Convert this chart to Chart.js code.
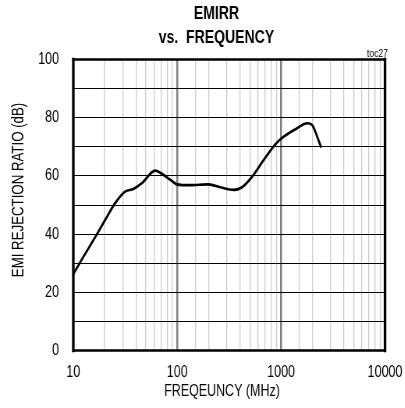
<!DOCTYPE html>
<html>
<head>
<meta charset="utf-8">
<script src="https://cdn.jsdelivr.net/npm/chart.js@4/dist/chart.umd.min.js"></script>
<style>
html,body{margin:0;padding:0;background:#fff;overflow:hidden;width:405px;height:408px;}
#wrap{width:519px;height:408px;transform:scaleX(0.78);transform-origin:0 0;}
</style>
</head>
<body>
<div id="wrap"><canvas id="c" width="519" height="408"></canvas></div>
<script>
const titleLines = ['EMIRR', 'vs.  FREQUENCY'];
const cornerNote = 'toc27';
const xTitle = 'FREQEUNCY (MHz)';
const yTitle = 'EMI REJECTION RATIO (dB)';
const freqMHz = [10, 12.5, 16.2, 20.2, 25.2, 31.5, 37.9, 45.7, 61.4, 73.9, 85.5, 99, 133, 200, 260, 349, 421, 525, 680, 881, 1059, 1426, 1780, 1989, 2223, 2431];
const emirrDb = [26.3, 32.2, 38.9, 44.8, 50.6, 54.6, 55.5, 57.5, 61.8, 60.3, 58.7, 57.1, 56.8, 57.1, 56.1, 55.2, 56.1, 59.7, 65.5, 70.9, 73.5, 76.4, 78.1, 77.5, 73.5, 69.7];
const xMajorTicks = [10, 100, 1000, 10000];
const yLabelTicks = [0, 20, 40, 60, 80, 100];

const SX = 0.78; // horizontal condensing of the whole drawing (narrow-font look)
const FONT = '"Liberation Sans", Arial, sans-serif';

const framePlugin = {
  id: 'frame',
  afterDatasetsDraw(chart) {
    const a = chart.chartArea, ctx = chart.ctx;
    ctx.save();
    ctx.strokeStyle = '#000';
    ctx.lineCap = 'square';
    ctx.lineWidth = 2.6;
    ctx.beginPath();
    ctx.moveTo(a.left, a.top); ctx.lineTo(a.right, a.top);
    ctx.moveTo(a.left, a.bottom); ctx.lineTo(a.right, a.bottom);
    ctx.stroke();
    ctx.lineWidth = 2.6 / SX;
    ctx.beginPath();
    ctx.moveTo(a.left, a.top); ctx.lineTo(a.left, a.bottom);
    ctx.moveTo(a.right, a.top); ctx.lineTo(a.right, a.bottom);
    ctx.stroke();
    ctx.restore();
  },
  afterDraw(chart) {
    const ctx = chart.ctx;
    ctx.save();
    ctx.fillStyle = '#000';
    ctx.textBaseline = 'middle';
    ctx.textAlign = 'center';
    ctx.font = 'bold 18px ' + FONT;
    ctx.fillText(titleLines[0], 216.5 / SX, 14.5);
    ctx.fillText(titleLines[1], 216.5 / SX, 38);
    ctx.font = '16px ' + FONT;
    ctx.fillText(xTitle, 222 / SX, 392);
    ctx.font = '11px ' + FONT;
    ctx.textAlign = 'right';
    ctx.fillText(cornerNote, 388 / SX, 54);
    ctx.translate(19 / SX, 190);
    ctx.rotate(-Math.PI / 2);
    ctx.scale(SX, 1 / SX);
    ctx.textAlign = 'center';
    ctx.font = '17px ' + FONT;
    ctx.fillText(yTitle, 0, 0);
    ctx.restore();
  }
};

const isMajor = c => c.tick && (c.tick.value === 100 || c.tick.value === 1000);

new Chart(document.getElementById('c'), {
  type: 'line',
  data: {
    datasets: [{
      data: freqMHz.map((f, i) => ({x: f, y: emirrDb[i]})),
      borderColor: '#000',
      borderWidth: 2.7,
      pointRadius: 0,
      tension: 0.4,
      cubicInterpolationMode: 'monotone',
      fill: false
    }]
  },
  options: {
    responsive: false,
    animation: false,
    layout: {padding: {top: 59.5, right: 25.4, bottom: 6.5, left: 0}},
    plugins: {legend: {display: false}, tooltip: {enabled: false}, title: {display: false}},
    scales: {
      x: {
        type: 'logarithmic',
        min: 10, max: 10000,
        border: {display: false},
        grid: {
          drawTicks: false,
          color: c => isMajor(c) ? '#808080' : '#cccccc',
          lineWidth: c => isMajor(c) ? 2.5 : 1.3
        },
        ticks: {
          autoSkip: false, maxRotation: 0, padding: 12,
          color: '#000',
          font: {family: FONT, size: 16},
          callback: v => xMajorTicks.includes(v) ? String(v) : ''
        },
        title: {display: false, text: xTitle},
        afterFit: s => { s.height = 51; s.paddingLeft = 0; s.paddingRight = 0; }
      },
      y: {
        min: 0, max: 100,
        border: {display: false},
        grid: {drawTicks: false, color: '#000', lineWidth: 1},
        ticks: {
          stepSize: 10, padding: 18.4, color: '#000',
          font: {family: FONT, size: 16},
          callback: v => yLabelTicks.includes(v) ? String(v) : ''
        },
        afterFit: s => { s.width = 94; s.paddingTop = 0; s.paddingBottom = 0; }
      }
    }
  },
  plugins: [framePlugin]
});
</script>
</body>
</html>
